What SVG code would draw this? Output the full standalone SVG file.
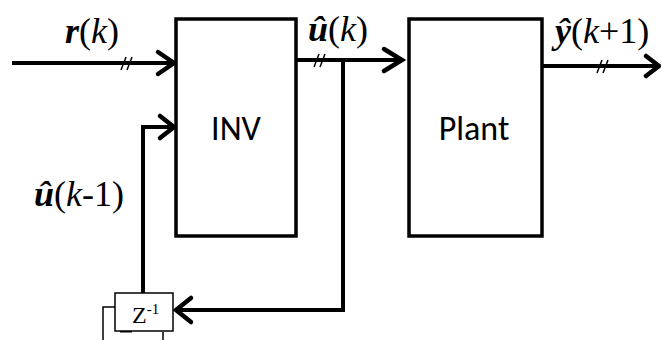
<svg xmlns="http://www.w3.org/2000/svg" width="661" height="340" viewBox="0 0 661 340">
<style>
.box{fill:#fff;stroke:#000;stroke-width:3.5}
.ln{fill:none;stroke:#000;stroke-width:4;stroke-linejoin:miter}
.ah{fill:none;stroke:#000;stroke-width:4.5;stroke-linecap:round;stroke-linejoin:miter}
.tk{fill:none;stroke:#000;stroke-width:1.5}
.thin{fill:none;stroke:#000;stroke-width:1.5}
.lbl{font-family:"Liberation Serif",serif;font-size:36px;fill:#000}
.b{font-weight:bold;font-style:italic}
.i{font-style:italic}
.nm{font-family:Carlito,"Liberation Sans","Open Sans",sans-serif;font-size:34px;fill:#000}
</style>
<rect width="661" height="340" fill="#fff"/>
<g id="connectors">
  <path class="ln" d="M12 63 H173"/>
  <path class="ah" d="M158 52 L174 63 L158 74"/>
  <path class="tk" d="M121 70 L126 57 M127 70 L132 57"/>
  <path class="ln" d="M297 60 H401"/>
  <path class="ah" d="M384 49 L402 60 L384 71"/>
  <path class="tk" d="M314 67 L319 54 M320 67 L325 54"/>
  <path class="ln" d="M343 60 V310 H177"/>
  <path class="ah" d="M191 298 L176 310 L191 322"/>
  <path class="ln" d="M143 293 V127 H173"/>
  <path class="ah" d="M160 116 L174 127 L160 138"/>
  <path class="ln" d="M543 66 H659"/>
  <path class="ah" d="M646 56 L659 66 L646 76"/>
  <path class="tk" d="M597 73 L602 60 M603 73 L608 60"/>
  <path class="thin" d="M115 307 H103 V340"/>
  <path class="thin" d="M163 332 V340"/>
  <path d="M120 331 H132" stroke="#000" stroke-width="3"/>
</g>
<g id="inv">
  <rect class="box" x="176" y="19" width="120" height="217"/>
  <text class="nm" x="236" y="140" text-anchor="middle">INV</text>
</g>
<g id="plant">
  <rect class="box" x="409" y="19" width="133" height="217"/>
  <text class="nm" x="474" y="140" text-anchor="middle">Plant</text>
</g>
<g id="delay">
  <rect x="115" y="293" width="58" height="38" fill="#fff" stroke="#000" stroke-width="1.5"/>
  <text x="132" y="323" font-family="Liberation Serif,serif" font-size="24" fill="#000">Z<tspan dy="-9" font-size="15">-1</tspan></text>
</g>
<g id="labels">
  <text class="lbl" x="65" y="43"><tspan class="b">r</tspan>(<tspan class="i">k</tspan>)</text>
  <text class="lbl" x="308" y="41"><tspan class="b">û</tspan>(<tspan class="i">k</tspan>)</text>
  <text class="lbl" x="555" y="43"><tspan class="b">ŷ</tspan>(<tspan class="i">k</tspan>+1)</text>
  <text class="lbl" x="34" y="206"><tspan class="b">û</tspan>(<tspan class="i">k</tspan>-1)</text>
</g>
</svg>
